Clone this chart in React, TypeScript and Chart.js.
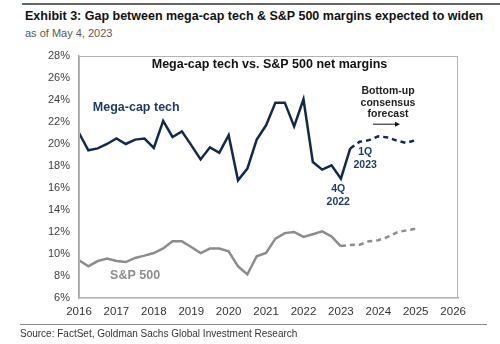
import React, { useEffect, useRef } from "react";
import { Chart, registerables } from "chart.js";

Chart.register(...registerables);

// Quarterly net margins (%), first quarter index 0 = 2016
const START_YEAR = 2016;
const megaCapActual = [
  21.0, 19.43, 19.6, 20.0, 20.5, 20.0, 20.4, 20.5, 19.64, 22.1,
  20.64, 21.15, 19.9, 18.6, 19.7, 19.2, 20.8, 16.7, 17.76, 20.4,
  21.7, 23.76, 23.76, 21.6, 24.06, 18.36, 17.67, 18.06, 16.85, 19.6,
];
const megaCapForecastStart = 29;
const megaCapForecast = [19.6, 20.2, 20.35, 20.7, 20.6, 20.3, 20.1, 20.35];

const sp500Actual = [
  9.43, 8.88, 9.36, 9.58, 9.36, 9.27, 9.64, 9.85, 10.09, 10.5,
  11.15, 11.15, 10.64, 10.09, 10.5, 10.5, 10.25, 8.88, 8.15, 9.8,
  10.1, 11.4, 11.9, 12.0, 11.55, 11.8, 12.06, 11.6, 10.7,
];
const sp500ForecastStart = 28;
const sp500Forecast = [10.73, 10.82, 10.85, 11.15, 11.25, 11.55, 11.97, 12.15, 12.3];

const yearTicks = [2016, 2017, 2018, 2019, 2020, 2021, 2022, 2023, 2024, 2025, 2026];
const yTicks = [6, 8, 10, 12, 14, 16, 18, 20, 22, 24, 26, 28];

const toPoints = (vals: number[], startIdx: number) =>
  vals.map((v, i) => ({ x: START_YEAR + (startIdx + i) / 4, y: v }));

const NAVY = "#13294b";
const GRAY = "#8c8c8c";
const FONT = "'Liberation Sans', Arial, sans-serif";

const annotationPlugin = {
  id: "annotations",
  afterDatasetsDraw(chart: any) {
    const { ctx, chartArea, scales } = chart;
    const xs = scales.x;
    const ys = scales.y;
    const px = (v: number) => xs.getPixelForValue(v);
    const py = (v: number) => ys.getPixelForValue(v);
    ctx.save();
    // frame
    ctx.strokeStyle = "#b3b3b3";
    ctx.lineWidth = 1;
    ctx.strokeRect(chartArea.left + 0.5, chartArea.top + 0.5, chartArea.right - chartArea.left - 1, chartArea.bottom - chartArea.top - 1);

    ctx.textBaseline = "middle";
    // inner title
    ctx.fillStyle = "#111";
    ctx.font = `bold 12.5px ${FONT}`;
    ctx.textAlign = "center";
    ctx.fillText("Mega-cap tech vs. S&P 500 net margins", (chartArea.left + chartArea.right) / 2 + 1, py(27.2));

    // series labels
    ctx.textAlign = "left";
    ctx.fillStyle = "#1d3a5f";
    ctx.font = `bold 12.5px ${FONT}`;
    ctx.fillText("Mega-cap tech", px(2016.37), py(23.3));
    ctx.fillStyle = GRAY;
    ctx.fillText("S&P 500", px(2016.83), py(8.0));

    // forecast note
    ctx.textAlign = "center";
    ctx.fillStyle = "#222";
    ctx.font = `bold 10.5px ${FONT}`;
    ctx.fillText("Bottom-up", px(2024.26), py(24.8));
    ctx.fillText("consensus", px(2024.26), py(23.75));
    ctx.fillText("forecast", px(2024.26), py(22.75));

    // arrow
    const ax1 = px(2023.86), ax2 = px(2024.58), ay = py(21.8);
    ctx.strokeStyle = "#111";
    ctx.lineWidth = 1;
    ctx.beginPath();
    ctx.moveTo(ax1, ay);
    ctx.lineTo(ax2 - 4, ay);
    ctx.stroke();
    ctx.fillStyle = "#111";
    ctx.beginPath();
    ctx.moveTo(ax2, ay);
    ctx.lineTo(ax2 - 5, ay - 2.5);
    ctx.lineTo(ax2 - 5, ay + 2.5);
    ctx.closePath();
    ctx.fill();

    // quarter labels
    ctx.fillStyle = "#1d3a5f";
    ctx.font = `bold 10.5px ${FONT}`;
    ctx.fillText("1Q", px(2023.65), py(19.3));
    ctx.fillText("2023", px(2023.65), py(18.1));
    ctx.fillText("4Q", px(2022.93), py(15.9));
    ctx.fillText("2022", px(2022.93), py(14.7));
    ctx.restore();
  },
};

export default function App() {
  const ref = useRef<HTMLCanvasElement | null>(null);
  useEffect(() => {
    if (!ref.current) return;
    const chart = new Chart(ref.current, {
      type: "line",
      data: {
        datasets: [
          {
            label: "Mega-cap tech",
            data: toPoints(megaCapActual, 0),
            borderColor: NAVY,
            borderWidth: 2.5,
            pointRadius: 0,
            tension: 0,
          },
          {
            label: "Mega-cap tech forecast",
            data: toPoints(megaCapForecast, megaCapForecastStart),
            borderColor: NAVY,
            borderWidth: 2.5,
            borderDash: [5, 4],
            pointRadius: 0,
            tension: 0,
          },
          {
            label: "S&P 500",
            data: toPoints(sp500Actual, 0),
            borderColor: GRAY,
            borderWidth: 2.5,
            pointRadius: 0,
            tension: 0,
          },
          {
            label: "S&P 500 forecast",
            data: toPoints(sp500Forecast, sp500ForecastStart),
            borderColor: GRAY,
            borderWidth: 2.5,
            borderDash: [5, 4],
            pointRadius: 0,
            tension: 0,
          },
        ],
      },
      options: {
        responsive: false,
        animation: false,
        devicePixelRatio: 1,
        layout: { padding: { left: 0, right: 42, top: 56, bottom: 26 } },
        plugins: { legend: { display: false }, tooltip: { enabled: false }, title: { display: false } },
        scales: {
          x: {
            type: "linear",
            min: 2016,
            max: 2026.13,
            afterBuildTicks: (scale: any) => {
              scale.ticks = yearTicks.map((v) => ({ value: v }));
            },
            afterFit: (scale: any) => {
              scale.height = 20;
            },
            grid: { display: false, drawTicks: false },
            border: { display: true, color: "#a6a6a6", width: 1.5 },
            ticks: {
              padding: 7,
              color: "#333",
              font: { family: FONT, size: 11.5 },
              maxRotation: 0,
              autoSkip: false,
              callback: (v: any) => String(v),
            },
          },
          y: {
            min: 6,
            max: 28,
            afterBuildTicks: (scale: any) => {
              scale.ticks = yTicks.map((v) => ({ value: v }));
            },
            afterFit: (scale: any) => {
              scale.width = 79;
            },
            grid: { display: false, drawTicks: false },
            border: { display: true, color: "#a6a6a6", width: 1.5 },
            ticks: {
              padding: 9,
              color: "#404040",
              font: { family: FONT, size: 11 },
              callback: (v: any) => `${v}%`,
            },
          },
        },
      },
      plugins: [annotationPlugin],
    });
    return () => chart.destroy();
  }, []);

  return (
    <div style={{ position: "fixed", left: 0, top: 0, width: 500, height: 344, background: "#fff", overflow: "hidden", fontFamily: FONT }}>
      <div style={{ position: "absolute", left: 22, top: 3, width: 478, height: 1.5, background: "#666" }} />
      <div style={{ position: "absolute", left: 25, top: 9, fontSize: 12.5, lineHeight: "14px", fontWeight: "bold", color: "#111", whiteSpace: "nowrap" }}>
        Exhibit 3: Gap between mega-cap tech &amp; S&amp;P 500 margins expected to widen
      </div>
      <div style={{ position: "absolute", left: 25, top: 27, fontSize: 11, lineHeight: "13px", color: "#595959", whiteSpace: "nowrap" }}>
        as of May 4, 2023
      </div>
      <canvas ref={ref} width={500} height={344} style={{ position: "absolute", left: 0, top: 0, width: 500, height: 344 }} />
      <div style={{ position: "absolute", left: 20, top: 323.5, width: 467, height: 1.5, background: "#8a8a8a" }} />
      <div style={{ position: "absolute", left: 20, top: 328, fontSize: 10, lineHeight: "12px", color: "#333", whiteSpace: "nowrap" }}>
        Source: FactSet, Goldman Sachs Global Investment Research
      </div>
    </div>
  );
}
